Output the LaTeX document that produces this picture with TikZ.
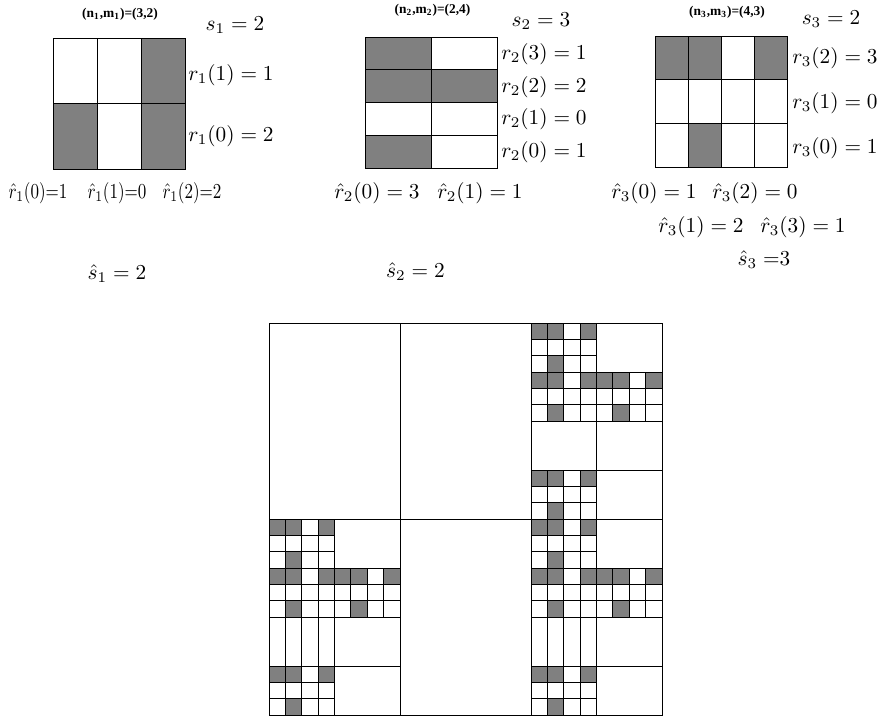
\documentclass[tikz,border=0pt]{standalone}
\usepackage{amsmath}
\usepackage{amssymb}
\usepackage{fontspec}
\usepackage{xcolor}

\newfontfamily\tagfont{Liberation Serif}
\definecolor{cellgray}{gray}{0.5}

\begin{document}
\begin{tikzpicture}[x=0.47pt, y=-0.47pt, line width=0.4pt,
    tag/.style={font=\tagfont\fontsize{6.3}{7}\selectfont\bfseries, inner sep=0pt},
    lbl/.style={inner sep=0pt}]
    \useasboundingbox (0,0) rectangle (881,718);

    % Pattern 1: 3 x 2
    \fill[cellgray] (141,38) rectangle (185,103.5);
    \fill[cellgray] (53,103.5) rectangle (97,169);
    \fill[cellgray] (141,103.5) rectangle (185,169);
    \draw (53,38) rectangle (185,169);
    \draw (97,38) -- (97,169);
    \draw (141,38) -- (141,169);
    \draw (53,103.5) -- (185,103.5);
    \node[tag] (t1) at (120,14) {(n\textsubscript{1},m\textsubscript{1})=(3,2)};
    \node[lbl] (s1) at (235,25) {$s_1 = 2$};
    \node[lbl] (r11) at (231,75) {$r_1(1) = 1$};
    \node[lbl] (r10) at (231,136) {$r_1(0) = 2$};
    \node[lbl] (h10) at (38,193) {\scalebox{0.8}[1]{$\hat{r}_1(0)$=1}};
    \node[lbl] (h11) at (117,193) {\scalebox{0.8}[1]{$\hat{r}_1(1)$=0}};
    \node[lbl] (h12) at (192,193) {\scalebox{0.8}[1]{$\hat{r}_1(2)$=2}};
    \node[lbl] (hs1) at (117,274) {$\hat{s}_1 = 2$};

    % Pattern 2: 2 x 4
    \fill[cellgray] (365,37) rectangle (431,69.75);
    \fill[cellgray] (365,69.75) rectangle (497,102.5);
    \fill[cellgray] (365,135.25) rectangle (431,168);
    \draw (365,37) rectangle (497,168);
    \draw (431,37) -- (431,168);
    \draw (365,69.75) -- (497,69.75);
    \draw (365,102.5) -- (497,102.5);
    \draw (365,135.25) -- (497,135.25);
    \node[tag] (t2) at (432.5,10) {(n\textsubscript{2},m\textsubscript{2})=(2,4)};
    \node[lbl] (s2) at (541,21) {$s_2 = 3$};
    \node[lbl] (r23) at (544,54) {$r_2(3) = 1$};
    \node[lbl] (r22) at (544,87) {$r_2(2) = 2$};
    \node[lbl] (r21) at (544,119) {$r_2(1) = 0$};
    \node[lbl] (r20) at (544,152) {$r_2(0) = 1$};
    \node[lbl] (h20) at (377,193) {$\hat{r}_2(0) = 3$};
    \node[lbl] (h21) at (480,193) {$\hat{r}_2(1) = 1$};
    \node[lbl] (hs2) at (415.5,272) {$\hat{s}_2 = 2$};

    % Pattern 3: 4 x 3
    \fill[cellgray] (655,36) rectangle (721,79.67);
    \fill[cellgray] (754,36) rectangle (787,79.67);
    \fill[cellgray] (688,123.33) rectangle (721,167);
    \draw (655,36) rectangle (787,167);
    \draw (688,36) -- (688,167);
    \draw (721,36) -- (721,167);
    \draw (754,36) -- (754,167);
    \draw (655,79.67) -- (787,79.67);
    \draw (655,123.33) -- (787,123.33);
    \node[tag] (t3) at (727,12) {(n\textsubscript{3},m\textsubscript{3})=(4,3)};
    \node[lbl] (s3) at (831,19) {$s_3 = 2$};
    \node[lbl] (r32) at (835,58) {$r_3(2) = 3$};
    \node[lbl] (r31) at (835,103) {$r_3(1) = 0$};
    \node[lbl] (r30) at (835,148) {$r_3(0) = 1$};
    \node[lbl] (h30) at (654,193) {$\hat{r}_3(0) = 1$};
    \node[lbl] (h32) at (755,193) {$\hat{r}_3(2) = 0$};
    \node[lbl] (h31) at (701,227) {$\hat{r}_3(1) = 2$};
    \node[lbl] (h33) at (803,227) {$\hat{r}_3(3) = 1$};
    \node[lbl] (hs3) at (764,260) {$\hat{s}_3 =$3};

    % Composed square: shaded cells of pattern 1 refined by 2, then by 3
    \foreach \X/\Y in {531/323, 269/519, 531/519} {
        \foreach \a/\b in {0/0, 0/1, 1/1, 0/3} {
            \foreach \c/\r in {0/0, 1/0, 3/0, 1/2}
                \fill[cellgray] ({\X+65.5*\a+16.375*\c}, {\Y+49*\b+49/3*\r}) rectangle +(16.375,49/3);
            \foreach \k in {1,2,3}
                \draw ({\X+65.5*\a+16.375*\k}, {\Y+49*\b}) -- +(0,49);
            \draw ({\X+65.5*\a}, {\Y+49*\b+49/3}) -- +(65.5,0);
            \draw ({\X+65.5*\a}, {\Y+49*\b+98/3}) -- +(65.5,0);
        }
        \draw ({\X+65.5}, \Y) -- +(0,196);
        \foreach \b in {1,2,3}
            \draw (\X, {\Y+49*\b}) -- +(131,0);
    }
    % stray column lines in the lower cells
    \foreach \X in {269, 531}
        \foreach \k in {1,2,3}
            \draw ({\X+16.375*\k}, 617) -- +(0,49);

    % first level grid
    \draw (269,323) rectangle (662,715);
    \draw (400,323) -- (400,715);
    \draw (531,323) -- (531,715);
    \draw (269,519) -- (662,519);
\end{tikzpicture}
\end{document}
